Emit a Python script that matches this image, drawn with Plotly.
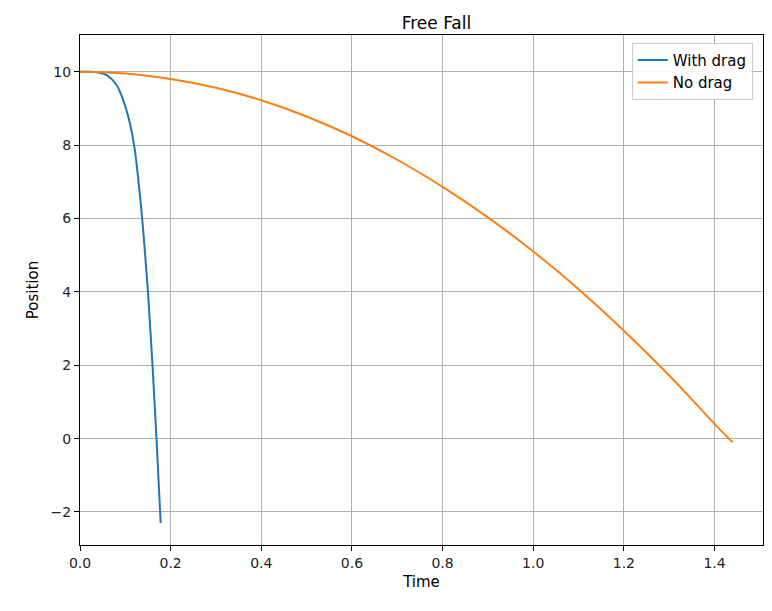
import plotly.graph_objects as go

# values
drag_t = [0.0, 0.02, 0.04, 0.06, 0.08, 0.09, 0.10, 0.11, 0.12, 0.13, 0.14, 0.15, 0.16, 0.17, 0.178]
drag_y = [10.0, 10.0, 9.98, 9.9, 9.65, 9.4, 9.05, 8.6, 7.95, 6.9, 5.6, 4.0, 2.0, -0.3, -2.3]
free_t = [0.0, 0.1, 0.2, 0.3, 0.4, 0.5, 0.6, 0.7, 0.8, 0.9, 1.0, 1.05, 1.1, 1.15, 1.2,
          1.25, 1.3, 1.35, 1.4, 1.44]
free_y = [10.0, 9.95, 9.80, 9.56, 9.22, 8.78, 8.24, 7.60, 6.86, 6.03, 5.10, 4.60, 4.07,
          3.52, 2.94, 2.34, 1.72, 1.07, 0.40, -0.10]

fig = go.Figure()
fig.add_trace(go.Scatter(x=drag_t, y=drag_y, mode='lines', name='With drag',
                         line=dict(color='#1f77b4', width=2, shape='spline')))
fig.add_trace(go.Scatter(x=free_t, y=free_y, mode='lines', name='No drag',
                         line=dict(color='#ff7f0e', width=2, shape='spline')))

axis_style = dict(showline=True, linecolor='black', mirror=True, ticks='outside',
                  ticklen=5, tickcolor='black', showgrid=True, gridcolor='#b0b0b0',
                  zeroline=False, tickfont=dict(size=14, color='#222'))
fig.update_xaxes(range=[0, 1.507], dtick=0.2, tickformat='.1f',
                 title=dict(text='Time', font=dict(size=15), standoff=6), **axis_style)
fig.update_yaxes(range=[-2.9, 11.0], tickvals=[-2, 0, 2, 4, 6, 8, 10],
                 ticktext=['\u22122', '0', '2', '4', '6', '8', '10'],
                 title=dict(text='Position', font=dict(size=15), standoff=8), **axis_style)

fig.update_layout(
    width=772, height=611,
    title=dict(text='Free Fall', x=0.555, y=0.985, xanchor='center', font=dict(size=17, color='black')),
    font=dict(family='DejaVu Sans', color='black'),
    plot_bgcolor='white', paper_bgcolor='white',
    margin=dict(l=72, r=17, t=27, b=74),
    legend=dict(x=0.985, y=0.985, xanchor='right', yanchor='top', bordercolor='#ccc',
                borderwidth=1, bgcolor='rgba(255,255,255,0.9)', font=dict(size=15)),
)
fig.write_html("out.html")
